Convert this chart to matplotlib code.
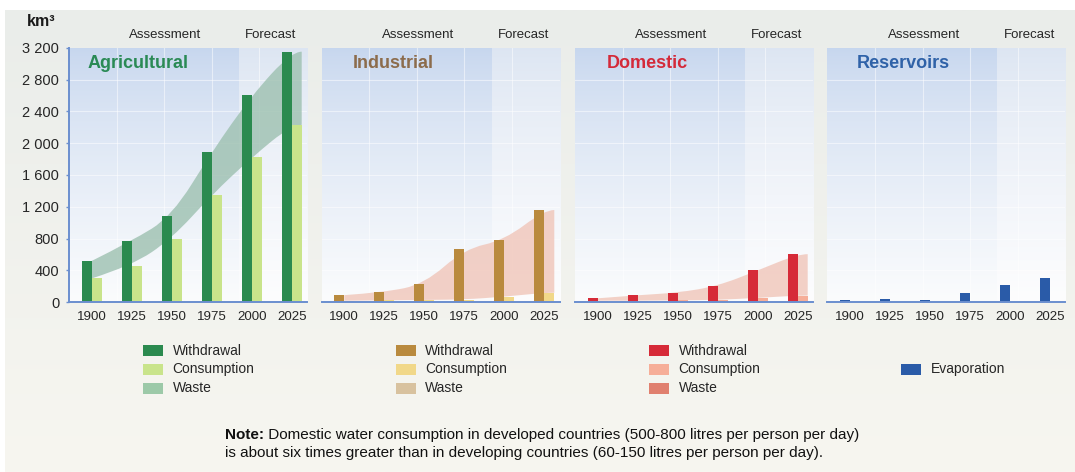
import numpy as np
import matplotlib
matplotlib.use("Agg")
import matplotlib.pyplot as plt
from matplotlib.path import Path
from matplotlib.patches import PathPatch, Rectangle
from matplotlib.colors import to_rgb

# ---------------- data (km3 per year) ----------------
years = [1900, 1925, 1950, 1975, 2000, 2025]

agri_withdrawal = [520, 770, 1080, 1890, 2600, 3150]
agri_consumption = [300, 460, 800, 1350, 1820, 2230]

ind_withdrawal = [90, 125, 230, 670, 780, 1160]
ind_consumption = [20, 25, 30, 35, 70, 120]

dom_withdrawal = [50, 90, 120, 205, 400, 605]
dom_consumption = [20, 20, 25, 30, 55, 85]

res_evaporation = [30, 40, 35, 120, 215, 300]

y_ticks = [0, 400, 800, 1200, 1600, 2000, 2400, 2800, 3200]
y_tick_labels = ["0", "400", "800", "1 200", "1 600", "2 000", "2 400", "2 800", "3 200"]

panel_titles = ["Agricultural", "Industrial", "Domestic", "Reservoirs"]
legend_labels = ["Withdrawal", "Consumption", "Waste"]
note_bold = "Note:"
note_line1 = " Domestic water consumption in developed countries (500-800 litres per person per day)"
note_line2 = "is about six times greater than in developing countries (60-150 litres per person per day)."

# ---------------- styling ----------------
W, H = 1075, 472
plt.rcParams["font.family"] = ["Liberation Sans", "DejaVu Sans"]

palettes = {
    "Agricultural": dict(w="#2b8a4f", c="#c9e48b", waste="#9cc9a8", band="#9bbfae", title="#2a8a55"),
    "Industrial": dict(w="#b98a3e", c="#f1d889", waste="#d8c29f", band="#f0c4b7", title="#8c6c4c"),
    "Domestic": dict(w="#d62a38", c="#f6ae98", waste="#e0806f", band="#f0c4b7", title="#d42a3a"),
    "Reservoirs": dict(w="#2a5ba8", title="#2f62a8"),
}
axis_blue = "#6b8fcf"
text_dark = "#262626"

px_per_year = 1.6
x_left = 1900 - 22.7 / px_per_year
ax_w_px = 238
x_right = x_left + ax_w_px / px_per_year
split_year = 1992           # assessment / forecast boundary
bar_w = 10 / px_per_year     # bar width in years

ax_top_px, ax_bot_px = 47.7, 302.3
panel_left_px = [69, 321.6, 575, 827.3]
title_offset_px = [19, 31.5, 31.7, 29.5]


def fx(px):
    return px / W


def fy(py):
    return 1 - py / H


fig = plt.figure(figsize=(W / 100, H / 100), dpi=100)
fig.patch.set_facecolor("white")

# page background: soft vertical gradient
bg = fig.add_axes([fx(5), 0, 1 - fx(5), fy(10)])
top_c, bot_c = np.array(to_rgb("#eaedea")), np.array(to_rgb("#f7f6f0"))
t = np.linspace(0, 1, 256)[:, None, None]
bg.imshow(top_c * (1 - t) + bot_c * t, aspect="auto", extent=[0, 1, 0, 1])
bg.set_axis_off()


def gradient(ax, x0, x1, c_top, c_bot):
    t = np.linspace(0, 1, 256) ** 0.75
    a, b = np.array(to_rgb(c_top)), np.array(to_rgb(c_bot))
    img = (a * (1 - t)[:, None] + b * t[:, None])[:, None, :]
    ax.imshow(img, aspect="auto", extent=[x0, x1, 0, 3200], zorder=0, interpolation="bilinear")


def band_path(xs, top, bottom):
    """Quadratic B-spline outline between two series."""
    def spline(px, py):
        verts = [(px[0], py[0])]
        codes = [Path.LINETO]
        n = len(px)
        for i in range(1, n - 1):
            if i < n - 2:
                end = ((px[i] + px[i + 1]) / 2, (py[i] + py[i + 1]) / 2)
            else:
                end = (px[i + 1], py[i + 1])
            verts += [(px[i], py[i]), end]
            codes += [Path.CURVE3, Path.CURVE3]
        return verts, codes

    vt, ct = spline(xs, top)
    vb, cb = spline(xs[::-1], bottom[::-1])
    verts = vt + vb + [vt[0]]
    codes = [Path.MOVETO] + ct[1:] + [Path.LINETO] + cb[1:] + [Path.CLOSEPOLY]
    return Path(verts, codes)


series = {
    "Agricultural": (agri_withdrawal, agri_consumption),
    "Industrial": (ind_withdrawal, ind_consumption),
    "Domestic": (dom_withdrawal, dom_consumption),
    "Reservoirs": (res_evaporation, None),
}

for i, name in enumerate(panel_titles):
    left = panel_left_px[i]
    ax = fig.add_axes([fx(left), fy(ax_bot_px), fx(ax_w_px), (ax_bot_px - ax_top_px) / H])
    ax.set_xlim(x_left, x_right)
    ax.set_ylim(0, 3200)
    ax.patch.set_alpha(0)

    gradient(ax, x_left, split_year, "#c6d6ee", "#fbfcfd")
    gradient(ax, split_year, x_right, "#dce5f2", "#fdfdfe")

    # faint white grid
    for yv in y_ticks[1:-1]:
        ax.axhline(yv, color="white", lw=0.8, alpha=0.5, zorder=1)
    for k in range(1, 5):
        ax.axvline(x_left + k * (x_right - x_left) / 5, color="white", lw=0.8, alpha=0.5, zorder=1)

    pal = palettes[name]
    wd, cons = series[name]
    yrs = np.array(years, dtype=float)
    if cons is not None:
        xs = list(yrs) + [years[-1] + bar_w]
        top = list(wd) + [wd[-1]]
        bottom = list(cons) + [cons[-1]]
        ax.add_patch(PathPatch(band_path(xs, top, bottom), facecolor=pal["band"],
                               edgecolor="none", alpha=0.78, zorder=2))
        ax.bar(yrs + bar_w / 2, cons, width=bar_w, color=pal["c"], zorder=3, linewidth=0)
    ax.bar(yrs - bar_w / 2, wd, width=bar_w, color=pal["w"], zorder=4, linewidth=0)

    # axes decoration
    for s in ["top", "right", "left"]:
        ax.spines[s].set_visible(False)
    ax.spines["bottom"].set_color(axis_blue)
    ax.spines["bottom"].set_linewidth(1.4)
    ax.spines["bottom"].set_zorder(6)
    ax.set_xticks(years)
    ax.set_xticklabels([str(y) for y in years])
    ax.tick_params(axis="x", length=0, pad=6, labelsize=9.6, colors=text_dark)
    if i == 0:
        ax.spines["left"].set_visible(True)
        ax.spines["left"].set_color(axis_blue)
        ax.spines["left"].set_linewidth(1.4)
        ax.set_yticks(y_ticks)
        ax.set_yticklabels(y_tick_labels)
        ax.tick_params(axis="y", length=2.5, width=1, color=axis_blue, pad=4.5,
                       labelsize=10.5, labelcolor=text_dark)
    else:
        ax.set_yticks([])

    ax.text(title_offset_px[i] / ax_w_px, (ax_bot_px - 63) / (ax_bot_px - ax_top_px), name,
            transform=ax.transAxes, ha="left", va="center", fontsize=13,
            fontweight="bold", color=pal["title"], zorder=7)
    ax.text(1946, (ax_bot_px - 35) / (ax_bot_px - ax_top_px), "Assessment",
            transform=ax.get_xaxis_transform(), ha="center", va="center",
            fontsize=9.5, color=text_dark)
    ax.text(2012, (ax_bot_px - 35) / (ax_bot_px - ax_top_px), "Forecast",
            transform=ax.get_xaxis_transform(), ha="center", va="center",
            fontsize=9.5, color=text_dark)

fig.text(fx(41), fy(22), "km³", ha="center", va="center", fontsize=11.5,
         fontweight="bold", color="#1a1a1a")

# legends
row_y = [350.7, 369.5, 388.3]
for i, name in enumerate(panel_titles):
    pal = palettes[name]
    sx = panel_left_px[i] + 74
    if name == "Reservoirs":
        entries = [("Evaporation", pal["w"], row_y[1])]
    else:
        entries = [(lab, pal[k], row_y[j]) for j, (lab, k) in
                   enumerate(zip(legend_labels, ["w", "c", "waste"]))]
    for lab, col, yc in entries:
        fig.patches.append(Rectangle((fx(sx), fy(yc + 5.5)), fx(20), 11 / H,
                                     transform=fig.transFigure, facecolor=col,
                                     edgecolor="none"))
        fig.text(fx(sx + 29.5), fy(yc), lab, ha="left", va="center", fontsize=10,
                 color=text_dark)

# note
nb = fig.text(fx(225), fy(442), note_bold, ha="left", va="bottom", fontsize=11,
              fontweight="bold", color="#111111")
fig.add_artist(plt.Annotation(note_line1, xy=(1, 0), xycoords=nb, ha="left", va="bottom",
                              fontsize=11, color="#111111"))
fig.text(fx(225), fy(460), note_line2, ha="left", va="bottom", fontsize=11,
         color="#111111")

fig.savefig("out.png", dpi=100)
